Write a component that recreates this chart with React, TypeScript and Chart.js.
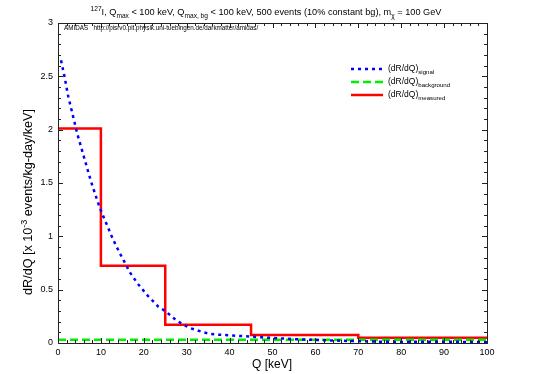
import React, { useEffect, useRef } from "react";
import { Chart, registerables } from "chart.js";
Chart.register(...registerables);

// Histogram (measured) bin edges and values
const stepEdges = [0, 10, 25, 45, 70, 100];
const measuredValues = [2.01, 0.725, 0.17, 0.075, 0.05];

// Signal curve
const signalQ = [0.7, 1.5, 2.4, 3.6, 4.5, 7.8, 9.8, 12.9, 14.3, 16.8, 18.7, 21, 23.4, 25, 27.5, 29, 30.6, 32.2, 33.9, 35.6, 37.3, 39, 40.7, 47.6, 54.5, 63, 68, 75, 80, 85, 90, 95, 100];
const signalValues = [2.65, 2.5, 2.31, 2.11, 1.96, 1.5, 1.26, 0.965, 0.85, 0.66, 0.55, 0.44, 0.34, 0.3, 0.215, 0.178, 0.143, 0.122, 0.1, 0.085, 0.078, 0.075, 0.07, 0.053, 0.037, 0.025, 0.019, 0.012, 0.01, 0.012, 0.012, 0.01, 0.008];

// Constant background
const backgroundQ = [0, 100];
const backgroundValues = [0.03, 0.03];

const legendLabels = ["signal", "background", "measured"];
const FONT = "'Liberation Sans', Arial, Helvetica, sans-serif";

type Seg = [string, "n" | "sub" | "sup"];

function richWidth(ctx: CanvasRenderingContext2D, segs: Seg[], size: number) {
  let w = 0;
  for (const [t, k] of segs) {
    const s = k === "n" ? size : size * 0.72;
    ctx.font = `${s}px ${FONT}`;
    w += ctx.measureText(t).width;
  }
  return w;
}

function drawRich(ctx: CanvasRenderingContext2D, segs: Seg[], x: number, y: number, size: number, align: "left" | "center") {
  let cx = align === "center" ? x - richWidth(ctx, segs, size) / 2 : x;
  ctx.textAlign = "left";
  ctx.textBaseline = "alphabetic";
  for (const [t, k] of segs) {
    const s = k === "n" ? size : size * 0.72;
    ctx.font = `${s}px ${FONT}`;
    const dy = k === "sub" ? size * 0.3 : k === "sup" ? -size * 0.42 : 0;
    ctx.fillText(t, cx, y + dy);
    cx += ctx.measureText(t).width;
  }
}

const decorPlugin = {
  id: "decor",
  afterDraw(chart: any) {
    const { ctx, chartArea: a, scales } = chart;
    const xs = scales.x;
    const ys = scales.y;
    ctx.save();
    ctx.fillStyle = "#000";
    ctx.strokeStyle = "#222";
    ctx.lineWidth = 1;
    // frame
    ctx.strokeRect(Math.round(a.left) + 0.5, Math.round(a.top) + 0.5, Math.round(a.right - a.left), Math.round(a.bottom - a.top));
    // ticks
    ctx.beginPath();
    for (let v = 0; v <= 100; v += 2) {
      const px = Math.round(xs.getPixelForValue(v)) + 0.5;
      const len = v % 10 === 0 ? 5 : 3;
      ctx.moveTo(px, a.bottom);
      ctx.lineTo(px, a.bottom - len);
      ctx.moveTo(px, a.top);
      ctx.lineTo(px, a.top + len);
    }
    for (let i = 0; i <= 30; i++) {
      const py = Math.round(ys.getPixelForValue(i / 10)) + 0.5;
      const len = i % 5 === 0 ? 5 : 3;
      ctx.moveTo(a.left, py);
      ctx.lineTo(a.left + len, py);
      ctx.moveTo(a.right, py);
      ctx.lineTo(a.right - len, py);
    }
    ctx.stroke();

    // title
    drawRich(ctx, [
      ["127", "sup"], ["I, Q", "n"], ["max", "sub"], [" < 100 keV, Q", "n"], ["max, bg", "sub"],
      [" < 100 keV, 500 events (10% constant bg), m", "n"], ["\u03c7", "sub"], [" = 100 GeV", "n"],
    ], 266, 15, 9.2, "center");

    // AMIDAS note
    ctx.font = `6.3px ${FONT}`;
    ctx.textAlign = "left";
    ctx.fillText("AMIDAS   http://pisrv0.pit.physik.uni-tuebingen.de/darkmatter/amidas/", 64, 30);

    // axis titles
    ctx.font = `12px ${FONT}`;
    ctx.textAlign = "center";
    ctx.fillText("Q [keV]", 272, 368);
    ctx.save();
    ctx.translate(32, 202);
    ctx.rotate(-Math.PI / 2);
    drawRich(ctx, [["dR/dQ [x 10", "n"], ["-3", "sup"], [" events/kg-day/keV]", "n"]], 0, 0, 12.6, "center");
    ctx.restore();

    // legend
    const rows = [
      { y: 69, color: "#0000ff", dash: [3, 4] },
      { y: 82, color: "#00ee00", dash: [8, 4] },
      { y: 95, color: "#ff0000", dash: [] as number[] },
    ];
    rows.forEach((r, i) => {
      ctx.beginPath();
      ctx.strokeStyle = r.color;
      ctx.lineWidth = 2.5;
      ctx.setLineDash(r.dash);
      ctx.moveTo(351, r.y);
      ctx.lineTo(383, r.y);
      ctx.stroke();
      ctx.setLineDash([]);
      ctx.fillStyle = "#000";
      drawRich(ctx, [["(dR/dQ)", "n"], [legendLabels[i], "sub"]], 388, r.y + 2, 8.5, "left");
    });
    ctx.restore();
  },
};

export default function App() {
  const ref = useRef<HTMLCanvasElement | null>(null);
  useEffect(() => {
    if (!ref.current) return;
    const measuredPts = measuredValues.map((v, i) => ({ x: stepEdges[i], y: v }));
    measuredPts.push({ x: stepEdges[stepEdges.length - 1], y: measuredValues[measuredValues.length - 1] });
    const chart = new Chart(ref.current, {
      type: "line",
      data: {
        datasets: [
          {
            label: "signal",
            data: signalQ.map((q, i) => ({ x: q, y: signalValues[i] })),
            borderColor: "#0000ff",
            borderWidth: 2.5,
            borderDash: [3, 4],
            pointRadius: 0,
            tension: 0,
            fill: false,
          },
          {
            label: "background",
            data: backgroundQ.map((q, i) => ({ x: q, y: backgroundValues[i] })),
            borderColor: "#00ee00",
            borderWidth: 2.5,
            borderDash: [8, 4],
            pointRadius: 0,
            fill: false,
          },
          {
            label: "measured",
            data: measuredPts,
            borderColor: "#ff0000",
            borderWidth: 2.5,
            stepped: "before",
            pointRadius: 0,
            fill: false,
          },
        ],
      },
      options: {
        responsive: false,
        animation: false,
        layout: { padding: { left: 0, top: 23, right: 47, bottom: 0 } },
        plugins: { legend: { display: false }, title: { display: false }, tooltip: { enabled: false } },
        scales: {
          x: {
            type: "linear",
            min: 0,
            max: 100,
            ticks: { stepSize: 10, color: "#000", font: { family: FONT, size: 9 }, padding: 4, maxRotation: 0 },
            grid: { display: false, drawTicks: false },
            border: { display: false },
            afterFit: (s: any) => { s.height = 31; },
          },
          y: {
            type: "linear",
            min: 0,
            max: 3,
            ticks: { stepSize: 0.5, color: "#000", font: { family: FONT, size: 9 }, padding: 5, callback: (v: any) => String(Number(v)) },
            grid: { display: false, drawTicks: false },
            border: { display: false },
            afterFit: (s: any) => { s.width = 58; },
          },
        },
      },
      plugins: [decorPlugin],
    });
    return () => chart.destroy();
  }, []);
  return (
    <div style={{ position: "absolute", left: 0, top: 0, width: 534, height: 374, background: "#fff" }}>
      <canvas ref={ref} width={534} height={374} style={{ width: 534, height: 374, display: "block" }} />
    </div>
  );
}
